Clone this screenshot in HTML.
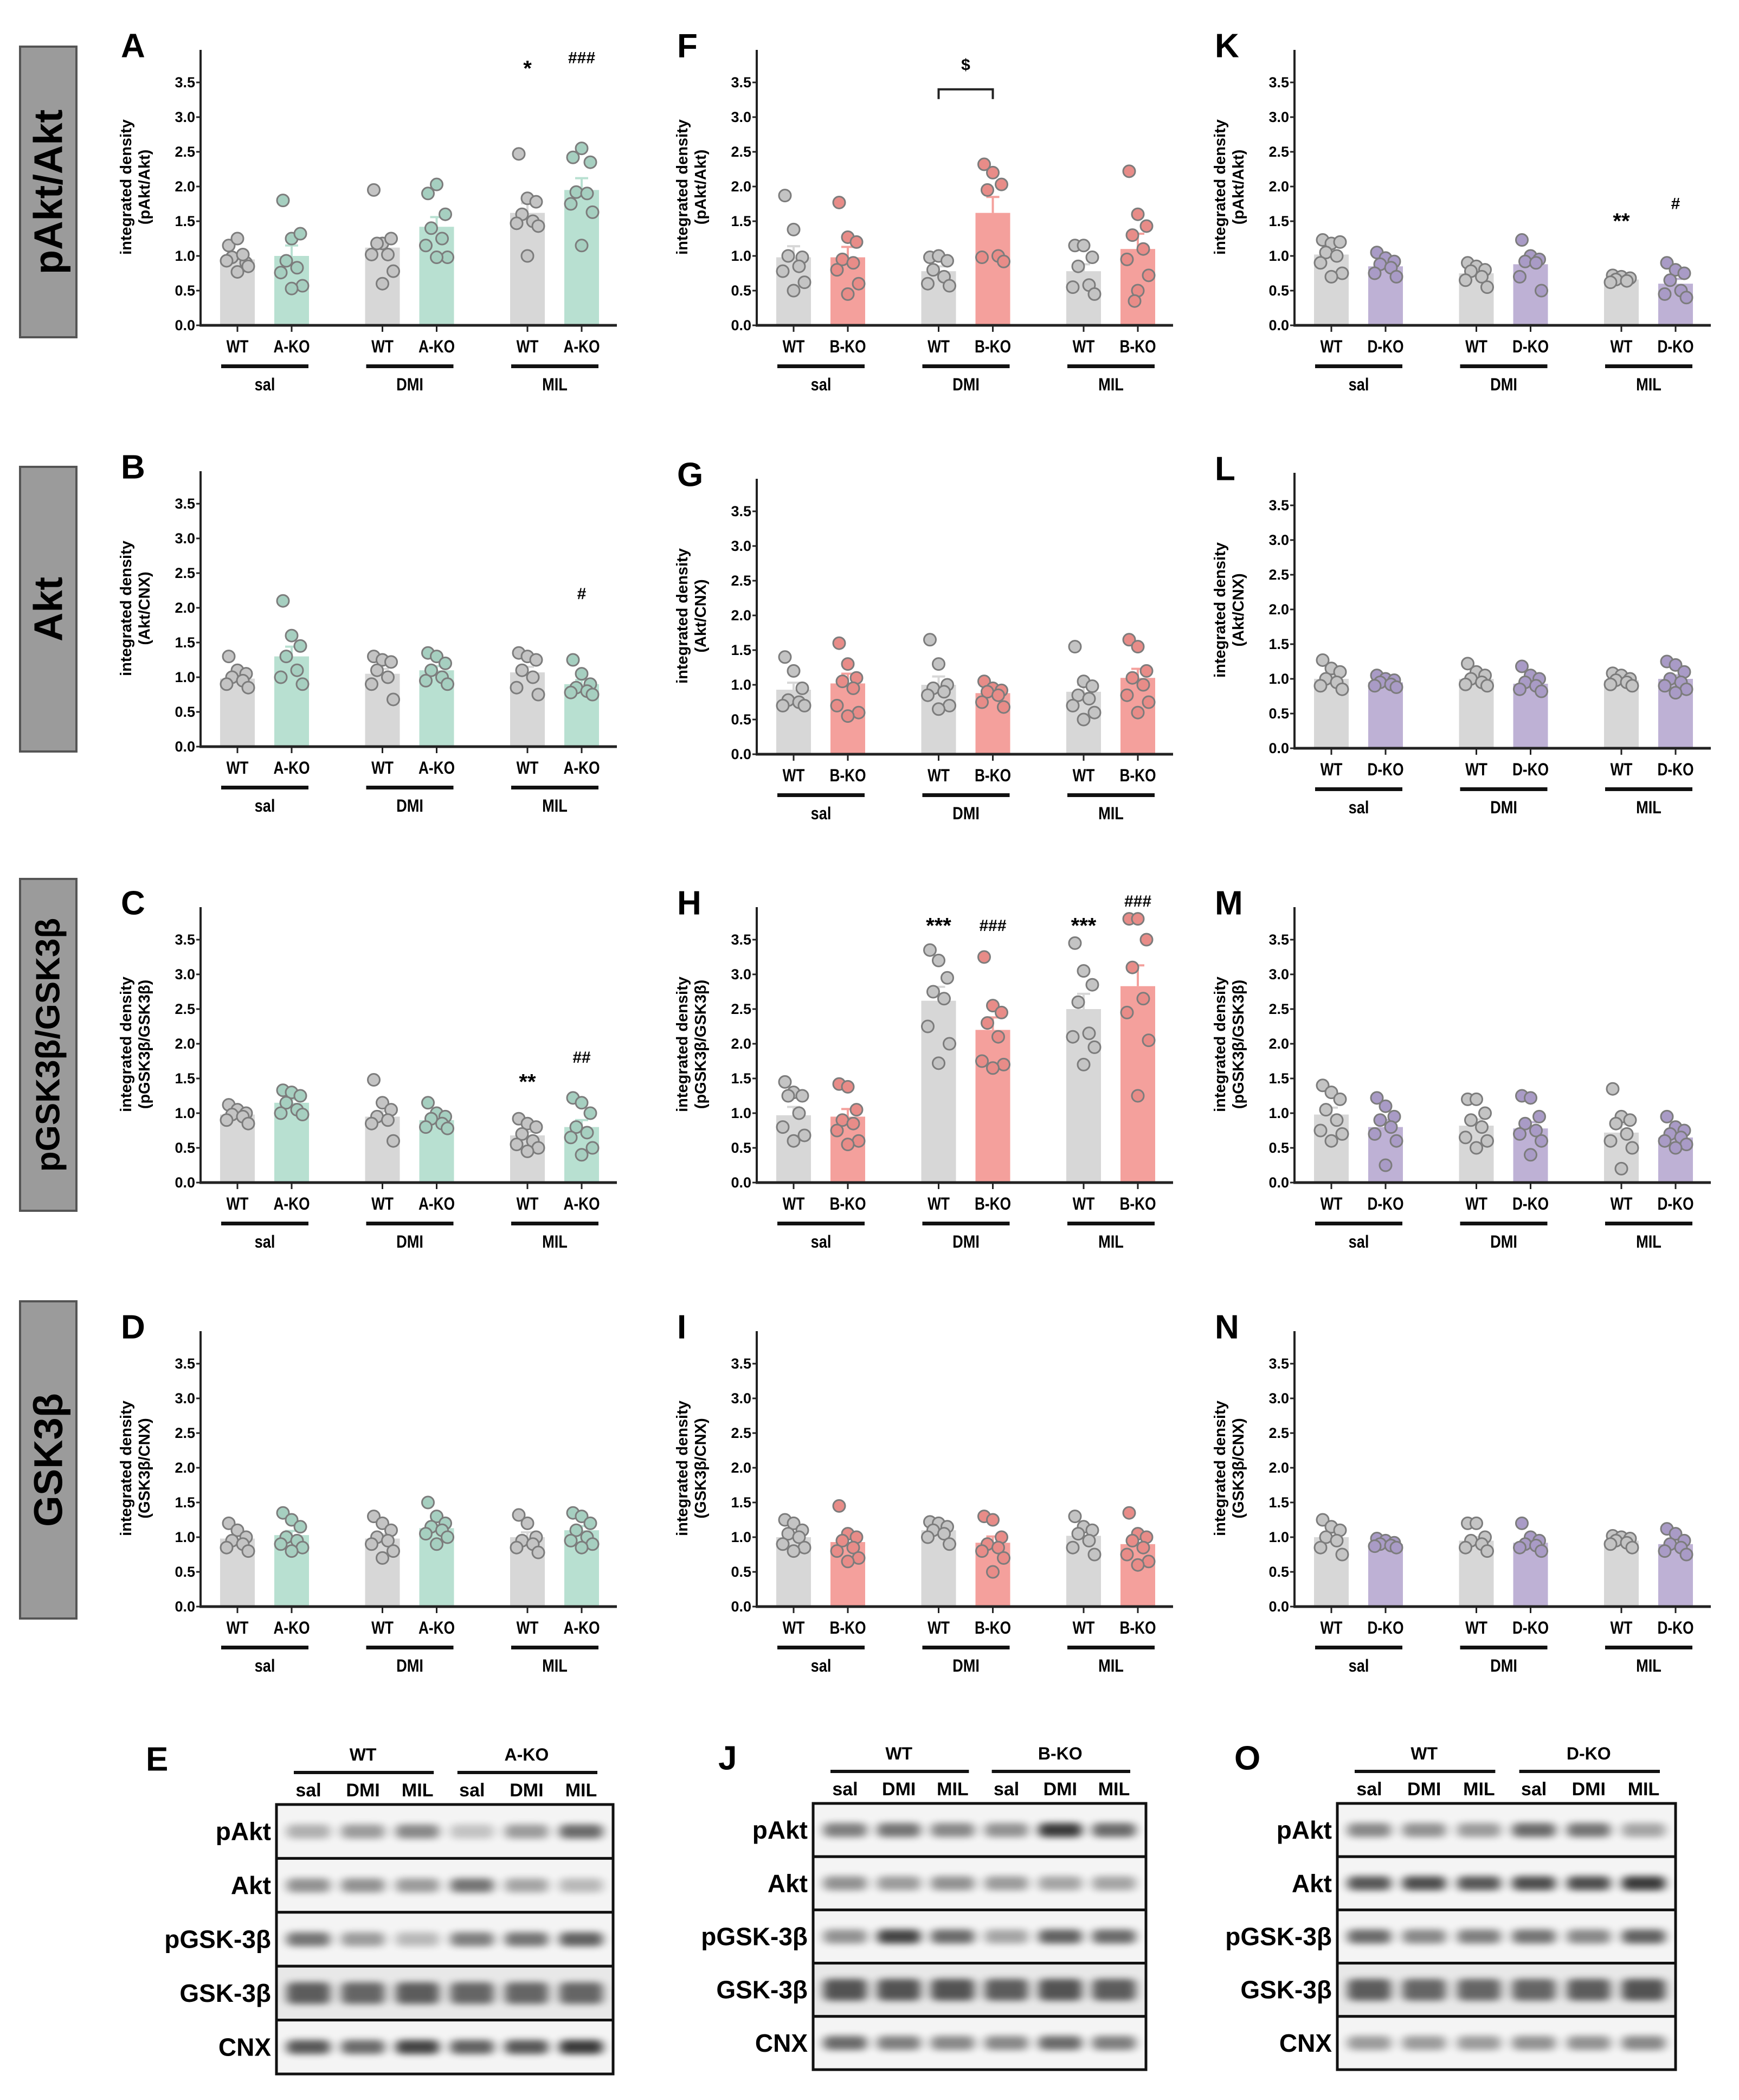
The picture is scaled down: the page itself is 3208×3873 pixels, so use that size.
<!DOCTYPE html>
<html><head><meta charset="utf-8"><style>
html,body{margin:0;padding:0;background:#fff;}
svg{display:block;font-family:"Liberation Sans",sans-serif;font-weight:bold;}
</style></head><body>
<svg id="fig" width="3208" height="3873" viewBox="0 0 3208 3873" xmlns="http://www.w3.org/2000/svg">
<defs><filter id="blur" x="-50%" y="-150%" width="200%" height="400%"><feGaussianBlur stdDeviation="9 6"/></filter></defs>
<g id="rowlabels"></g><g id="charts"></g><g id="blots"></g>
</svg>
<script>
// ---- Data ----
const groupLabels = ["sal","DMI","MIL"];
const yTicks = [0,0.5,1,1.5,2,2.5,3,3.5];
const koNames = ["A-KO","B-KO","D-KO"];
const rowTitles = ["(pAkt/Akt)","(Akt/CNX)","(pGSK3β/GSK3β)","(GSK3β/CNX)"];
const letters = [["A","F","K"],["B","G","L"],["C","H","M"],["D","I","N"]];

const meansA=[0.95,1.0,1.12,1.42,1.62,1.95]; const semA=[0.07,0.15,0.13,0.14,0.14,0.17];
const ptsA=[[1.15,1.25,0.9,0.98,1.02,0.93,0.85,0.77],[1.8,1.25,1.32,0.93,0.83,0.76,0.57,0.53],[1.95,1.18,1.25,1.18,1.02,1.02,0.78,0.6],[1.9,2.03,1.6,1.4,1.25,1.15,0.98,0.98],[2.47,1.83,1.78,1.6,1.5,1.47,1.43,1.0],[2.42,2.55,2.35,1.92,1.9,1.75,1.63,1.15]];
const meansF=[0.98,0.98,0.78,1.62,0.78,1.1]; const semF=[0.16,0.15,0.07,0.23,0.1,0.22];
const ptsF=[[1.87,1.38,0.98,1.0,0.85,0.78,0.62,0.5],[1.77,1.27,1.2,0.95,0.9,0.8,0.6,0.45],[0.98,1.0,0.93,0.8,0.7,0.6,0.57],[2.32,2.2,2.03,1.95,1.0,0.98,0.92],[1.15,1.15,0.98,0.85,0.58,0.55,0.45],[2.22,1.6,1.43,1.3,1.1,0.95,0.72,0.5,0.35]];
const meansK=[1.02,0.85,0.75,0.88,0.66,0.6]; const semK=[0.06,0.05,0.04,0.08,0.02,0.07];
const ptsK=[[1.23,1.18,1.2,1.05,1.0,0.9,0.75,0.7],[1.05,0.97,0.92,0.88,0.83,0.75,0.7],[0.9,0.85,0.8,0.78,0.7,0.65,0.55],[1.23,1.0,0.95,0.92,0.9,0.7,0.5],[0.72,0.7,0.68,0.66,0.64,0.62],[0.9,0.8,0.75,0.65,0.5,0.45,0.4]];
const meansB=[0.98,1.3,1.05,1.1,1.07,0.9]; const semB=[0.05,0.14,0.07,0.06,0.08,0.06];
const ptsB=[[1.3,1.1,1.05,1.0,0.95,0.9,0.85],[2.1,1.6,1.45,1.3,1.1,1.0,0.9],[1.3,1.25,1.22,1.1,1.0,0.9,0.68],[1.35,1.3,1.2,1.1,1.0,0.95,0.9],[1.35,1.3,1.25,1.1,1.0,0.85,0.75],[1.25,1.05,0.9,0.85,0.8,0.78,0.75]];
const meansG=[0.93,1.02,1.0,0.88,0.9,1.1]; const semG=[0.1,0.14,0.12,0.05,0.1,0.13];
const ptsG=[[1.4,1.2,0.95,0.78,0.75,0.7,0.7],[1.6,1.3,1.1,1.05,0.95,0.7,0.6,0.55],[1.65,1.3,1.0,0.95,0.9,0.85,0.7,0.65],[1.05,0.95,0.92,0.9,0.85,0.75,0.68],[1.55,1.05,0.98,0.85,0.8,0.7,0.6,0.5],[1.65,1.55,1.2,1.1,1.0,0.85,0.75,0.6]];
const meansL=[1.0,0.95,1.0,0.93,0.98,1.0]; const semL=[0.05,0.03,0.04,0.04,0.02,0.05];
const ptsL=[[1.27,1.15,1.1,1.0,0.95,0.9,0.85],[1.05,1.0,0.98,0.95,0.92,0.9,0.88],[1.22,1.1,1.05,1.0,0.95,0.92,0.9],[1.18,1.05,1.0,0.95,0.9,0.85,0.82],[1.08,1.05,1.0,0.98,0.95,0.92,0.9],[1.25,1.2,1.1,1.0,0.95,0.9,0.85,0.8]];
const meansC=[0.98,1.15,0.95,0.9,0.68,0.8]; const semC=[0.03,0.05,0.08,0.04,0.05,0.1];
const ptsC=[[1.12,1.05,1.0,0.98,0.95,0.9,0.85],[1.33,1.3,1.25,1.15,1.05,1.0,0.98],[1.48,1.15,1.05,0.95,0.9,0.85,0.6],[1.15,1.0,0.95,0.92,0.85,0.8,0.78],[0.92,0.85,0.8,0.7,0.6,0.55,0.5,0.45],[1.22,1.15,1.0,0.8,0.72,0.65,0.5,0.4]];
const meansH=[0.97,0.95,2.62,2.2,2.5,2.83]; const semH=[0.12,0.11,0.2,0.18,0.22,0.3];
const ptsH=[[1.45,1.3,1.25,1.25,1.0,0.8,0.68,0.6],[1.42,1.38,1.05,0.9,0.85,0.75,0.6,0.55],[3.35,3.2,2.95,2.75,2.65,2.25,2.0,1.72],[3.25,2.55,2.45,2.3,2.1,1.75,1.7,1.65],[3.45,3.05,2.85,2.6,2.15,2.1,1.95,1.7],[3.8,3.8,3.5,3.1,2.65,2.45,2.05,1.25]];
const meansM=[0.98,0.8,0.82,0.78,0.72,0.65]; const semM=[0.1,0.1,0.09,0.09,0.12,0.05];
const ptsM=[[1.4,1.3,1.2,1.05,0.9,0.75,0.7,0.6],[1.22,1.1,0.95,0.9,0.8,0.7,0.6,0.25],[1.2,1.2,1.0,0.9,0.8,0.65,0.6,0.5],[1.25,1.22,0.95,0.85,0.75,0.7,0.6,0.4],[1.35,0.95,0.9,0.85,0.7,0.6,0.5,0.2],[0.95,0.8,0.75,0.7,0.65,0.6,0.55,0.5]];
const meansD=[0.98,1.03,0.98,1.13,1.0,1.1]; const semD=[0.04,0.06,0.06,0.05,0.07,0.06];
const ptsD=[[1.2,1.1,1.0,0.95,0.9,0.85,0.8],[1.35,1.25,1.15,1.0,0.95,0.9,0.85,0.8],[1.3,1.2,1.1,1.0,0.95,0.9,0.8,0.7],[1.5,1.3,1.2,1.15,1.1,1.05,1.0,0.9],[1.32,1.2,1.0,0.95,0.9,0.85,0.78],[1.35,1.3,1.2,1.1,1.0,0.95,0.9,0.85]];
const meansI=[1.0,0.93,1.1,0.92,1.02,0.9]; const semI=[0.05,0.08,0.04,0.09,0.07,0.08];
const ptsI=[[1.25,1.2,1.1,1.05,1.0,0.9,0.85,0.8],[1.45,1.05,1.0,0.95,0.85,0.8,0.7,0.65],[1.22,1.2,1.15,1.1,1.05,1.0,0.9],[1.3,1.25,1.0,0.9,0.85,0.8,0.7,0.5],[1.3,1.15,1.1,1.05,0.95,0.85,0.75],[1.35,1.05,1.0,0.95,0.85,0.75,0.65,0.6]];
const meansN=[1.0,0.9,0.95,0.92,0.95,0.9]; const semN=[0.06,0.02,0.05,0.05,0.02,0.05];
const ptsN=[[1.25,1.15,1.1,1.0,0.95,0.85,0.75],[0.98,0.95,0.92,0.9,0.88,0.87,0.85],[1.2,1.2,1.0,0.95,0.9,0.85,0.8],[1.2,1.0,0.95,0.9,0.88,0.85,0.8],[1.02,1.0,0.98,0.95,0.92,0.9,0.85],[1.12,1.05,0.95,0.9,0.85,0.8,0.75]];

const annA=[[4,3.7,"*"],[5,3.85,"###"]];
const annB=[[5,2.2,"#"]];
const annC=[[4,1.45,"**"],[5,1.8,"##"]];
const annH=[[2,3.7,"***"],[3,3.7,"###"],[4,3.7,"***"],[5,4.05,"###"]];
const annK=[[4,1.5,"**"],[5,1.75,"#"]];

const blotProteins=["pAkt","Akt","pGSK-3β","GSK-3β","CNX"];
const laneLabels=["sal","DMI","MIL","sal","DMI","MIL"];
const bandsE=[[0.35,0.45,0.55,0.25,0.45,0.7],[0.5,0.5,0.45,0.65,0.4,0.3],[0.65,0.45,0.3,0.6,0.65,0.75],[0.75,0.7,0.75,0.7,0.7,0.7],[0.8,0.7,0.9,0.75,0.8,0.95]];
const bandsJ=[[0.6,0.65,0.55,0.5,0.95,0.7],[0.5,0.45,0.5,0.45,0.4,0.4],[0.5,0.9,0.7,0.4,0.75,0.7],[0.8,0.8,0.8,0.75,0.8,0.75],[0.7,0.6,0.55,0.55,0.7,0.6]];
const bandsO=[[0.55,0.5,0.45,0.7,0.65,0.4],[0.8,0.85,0.8,0.85,0.85,0.95],[0.7,0.55,0.6,0.65,0.55,0.75],[0.75,0.7,0.7,0.7,0.75,0.8],[0.45,0.45,0.45,0.5,0.5,0.55]];

// ---- Layout ----
const NS="http://www.w3.org/2000/svg";
function mk(tag,attrs,parent,txt){const e=document.createElementNS(NS,tag);for(const k in attrs)e.setAttribute(k,attrs[k]);if(txt!==undefined)e.textContent=txt;parent.appendChild(e);return e;}
const colX=[370,1396,2388];
const zeroY=[[600,600,600],[1377,1391,1380],[2181,2181,2181],[2963,2963,2963]];
const UNIT=128;
const koBar=["#b8e0d1","#f4a09c","#beb1d5"];
const koPt=["#a6cfc0","#e88c88","#a99bc6"];
const panels=[
 [[meansA,semA,ptsA,annA],[meansF,semF,ptsF,[]],[meansK,semK,ptsK,annK]],
 [[meansB,semB,ptsB,annB],[meansG,semG,ptsG,[]],[meansL,semL,ptsL,[]]],
 [[meansC,semC,ptsC,annC],[meansH,semH,ptsH,annH],[meansM,semM,ptsM,[]]],
 [[meansD,semD,ptsD,[]],[meansI,semI,ptsI,[]],[meansN,semN,ptsN,[]]]];
const jit=[-16,0,16,-10,10,-20,20,0,-6];

const rl=document.getElementById('rowlabels');
const boxes=[[86,622,"pAkt/Akt"],[861,1386,"Akt"],[1621,2233,"pGSK3β/GSK3β"],[2400,2985,"GSK3β"]];
boxes.forEach((b,i)=>{
 const g=mk('g',{},rl);
 
 
 mk('rect',{x:37,y:b[0],width:104,height:b[1]-b[0],fill:'#9b9b9b',stroke:'#555',"stroke-width":4},g);
 const cy=(b[0]+b[1])/2;
 const fs=b[2].length>8?62:74;
 mk('text',{x:89,y:cy,"font-size":fs,"text-anchor":"middle","dominant-baseline":"central",transform:`rotate(-90 89 ${cy})`,fill:'#000'},g,b[2]);
});

const charts=document.getElementById('charts');
for(let r=0;r<4;r++)for(let c=0;c<3;c++){
 const [means,sems,pts,ann]=panels[r][c];
 const ax=colX[c], z=zeroY[r][c];
 const y=v=>z-v*UNIT;
 const bx=i=>ax+68+Math.floor(i/2)*267.5+(i%2)*100;
 const g=mk('g',{},charts);
 
 
 const lt=mk('text',{x:ax-147,y:z-515,"font-size":62,"dominant-baseline":"central"},g,letters[r][c]);
 
 
 const tcy=z-255;
 const yt=mk('text',{x:0,y:0,"font-size":29,"text-anchor":"middle",transform:`translate(${ax-128} ${tcy}) rotate(-90)`},g);
 
 
 mk('tspan',{x:0,dy:0},yt,"integrated density");
 mk('tspan',{x:0,dy:34},yt,rowTitles[r]);
 for(let i=0;i<6;i++){
  const isKO=i%2===1;
  const col=isKO?koBar[c]:'#d7d7d7';
  const rect=mk('rect',{x:bx(i)-32,y:y(means[i]),width:64,height:means[i]*UNIT,fill:col},g);
  
  
  mk('line',{x1:bx(i),x2:bx(i),y1:y(means[i]),y2:y(means[i]+sems[i]),stroke:col,"stroke-width":4},g);
  mk('line',{x1:bx(i)-12,x2:bx(i)+12,y1:y(means[i]+sems[i]),y2:y(means[i]+sems[i]),stroke:col,"stroke-width":4},g);
  pts[i].forEach((v,k)=>{
   const p=mk('circle',{cx:bx(i)+jit[k%jit.length],cy:y(v),r:11,fill:isKO?koPt[c]:'#c4c4c4',stroke:'#7c7c7c',"stroke-width":3},g);
   
   
  });
  mk('line',{x1:bx(i),x2:bx(i),y1:z,y2:z+12,stroke:'#222',"stroke-width":3},g);
  const xl=mk('text',{x:0,y:0,"font-size":32,"text-anchor":"middle","dominant-baseline":"central",transform:`translate(${bx(i)} ${z+40}) scale(0.82 1)`},g,isKO?koNames[c]:"WT");
  
  
 }
 for(let gI=0;gI<3;gI++){
  const x1=bx(gI*2)-30,x2=bx(gI*2+1)+31;
  mk('rect',{x:x1,y:z+72,width:x2-x1,height:7,fill:'#111'},g);
  const gl=mk('text',{x:0,y:0,"font-size":32,"text-anchor":"middle","dominant-baseline":"central",transform:`translate(${(x1+x2)/2} ${z+110}) scale(0.85 1)`},g,groupLabels[gI]);
  
  
 }
 const axl=mk('line',{x1:ax,x2:ax,y1:z-508,y2:z+2,stroke:'#222',"stroke-width":4},g);
 
 
 const xax=mk('line',{x1:ax-2,x2:ax+768,y1:z,y2:z,stroke:'#222',"stroke-width":5},g);
 
 
 yTicks.forEach(t=>{
  mk('line',{x1:ax-8,x2:ax,y1:y(t),y2:y(t),stroke:'#222',"stroke-width":3},g);
  const tl=mk('text',{x:ax-10,y:y(t),"font-size":27,"text-anchor":"end","dominant-baseline":"central"},g,t.toFixed(1));
  
  
 });
 ann.forEach(a=>{
  const at=mk('text',{x:bx(a[0]),y:y(a[1]),"font-size":a[2].indexOf('*')>=0?40:30,"text-anchor":"middle","dominant-baseline":"central"},g,a[2]);
  
  
 });
 if(r===0&&c===1){
  const yb=y(3.4);
  mk('path',{d:`M${bx(2)} ${yb+18} V${yb} H${bx(3)} V${yb+18}`,fill:'none',stroke:'#222',"stroke-width":4},g);
  const s=mk('text',{x:(bx(2)+bx(3))/2,y:y(3.75),"font-size":30,"text-anchor":"middle","dominant-baseline":"central"},g,"$");
  
  
 }
}

const blots=document.getElementById('blots');
const blotDefs=[["E",510,1131,3328,3825,bandsE,"A-KO",269],["J",1500,2114,3326,3817,bandsJ,"B-KO",1325],["O",2467,3091,3326,3817,bandsO,"D-KO",2277]];
blotDefs.forEach(bd=>{
 const [L,x0,x1,y0,y1,bands,ko,lx]=bd;
 const g=mk('g',{},blots);
 
 
 mk('text',{x:lx,y:y0-83,"font-size":62,"dominant-baseline":"central"},g,L);
 const w=x1-x0, lane=i=>x0+59+i*(w-118)/5;
 const sh=(y1-y0)/5;
 mk('text',{x:lane(1),y:y0-92,"font-size":32,"text-anchor":"middle","dominant-baseline":"central"},g,"WT");
 mk('text',{x:lane(4),y:y0-92,"font-size":32,"text-anchor":"middle","dominant-baseline":"central"},g,ko);
 mk('rect',{x:lane(0)-27,y:y0-62,width:lane(2)-lane(0)+57,height:6,fill:'#111'},g);
 mk('rect',{x:lane(3)-27,y:y0-62,width:lane(5)-lane(3)+57,height:6,fill:'#111'},g);
 laneLabels.forEach((t,i)=>mk('text',{x:lane(i),y:y0-26,"font-size":34,"text-anchor":"middle","dominant-baseline":"central"},g,t));
 for(let s=0;s<5;s++){
  const sy=y0+s*sh;
  mk('rect',{x:x0,y:sy,width:w,height:sh,fill:s===3?'#e8e8e8':'#f4f4f4',stroke:'#111',"stroke-width":5},g);
  const pl=mk('text',{x:x0-10,y:sy+sh/2,"font-size":46,"text-anchor":"end","dominant-baseline":"central"},g,blotProteins[s]);
  
  
  bands[s].forEach((v,i)=>{
   const b=mk('rect',{x:lane(i)-40,y:sy+sh/2-(s===3?20:13),width:80,height:s===3?40:26,rx:10,fill:'#000',opacity:v*0.8,filter:'url(#blur)'},g);
   
   
  });
 }
});
</script>
</body></html>
